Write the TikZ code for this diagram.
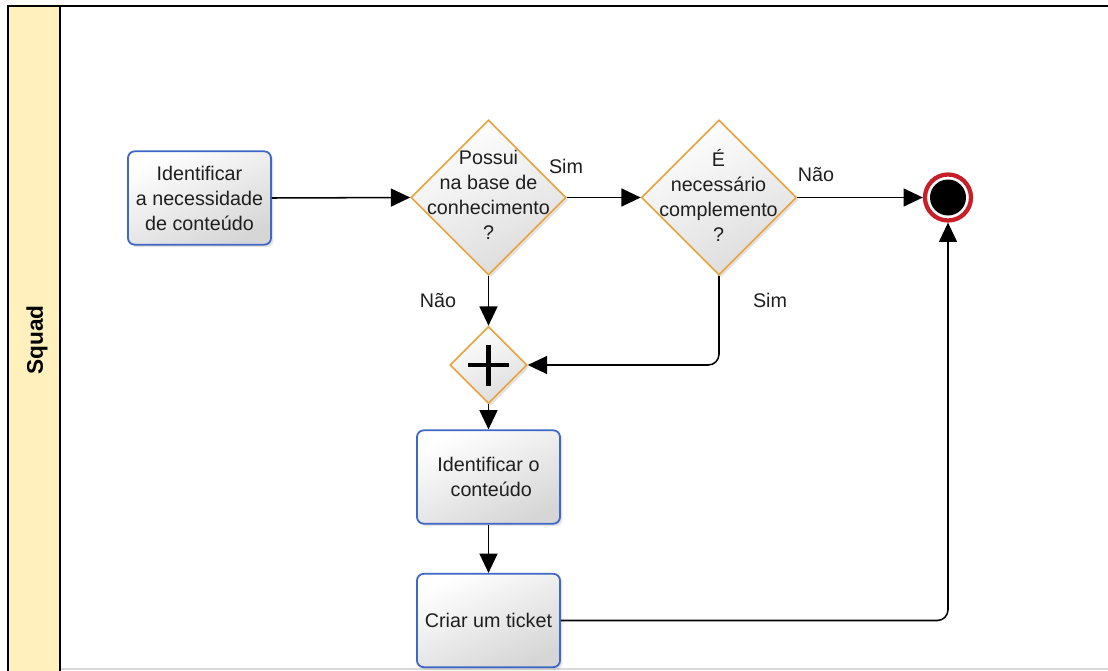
\documentclass[tikz,border=0pt]{standalone}
\usepackage{fontspec}
\setmainfont{Liberation Sans}
\usetikzlibrary{arrows.meta,shapes.geometric,shadows}

\definecolor{laneyellow}{HTML}{FFF0BE}
\definecolor{taskblue}{HTML}{3F67C6}
\definecolor{gateorange}{HTML}{E9A23B}
\definecolor{endred}{HTML}{C81E28}
\definecolor{boxgray}{HTML}{D6D6D6}

\tikzset{
  txt/.style={font=\fontsize{14.8}{18.75}\selectfont, text=black!88, align=center, inner sep=0pt},
  softshadow/.style={drop shadow={opacity=0.22, shadow xshift=1.8pt, shadow yshift=-1.8pt}},
  task/.style={draw=taskblue, line width=1.35pt, rounded corners=5pt,
    minimum width=107.25pt, minimum height=70pt, inner sep=0pt,
    top color=white, bottom color=boxgray, shading angle=25, softshadow},
  gate/.style={shape=diamond, draw=gateorange, line width=1.2pt, inner sep=0pt,
    top color=white, bottom color=boxgray!85, shading angle=25, softshadow},
  flow/.style={draw=black, line width=1.15pt, rounded corners=8pt,
    -{Triangle[length=14.5pt,width=13.5pt]}},
  plusmark/.style={line width=3.6pt, black},
}

\begin{document}
\begin{tikzpicture}[x=0.75pt, y=-0.75pt]
  \useasboundingbox (0,0) rectangle (1108,671);

  % pool with its lane header
  \fill[laneyellow] (8,6) rectangle (60,671);
  \draw[black!15, line width=1pt] (60,669) -- (1108,669);
  \draw[black, line width=1.6pt] (8,671) -- (8,6) -- (1108,6);
  \draw[black, line width=1.6pt] (60,6) -- (60,671);
  \node[font=\bfseries\fontsize{17}{20}\selectfont, rotate=90] (lane) at (37,340) {Squad};

  % activities
  \node[task] (t1) at (199.5,198) {};
  \node[txt] (t1txt) at (t1.center) {Identificar\\a necessidade\\de conteúdo};
  \node[task] (t2) at (488.5,477) {};
  \node[txt] (t2txt) at (t2.center) {Identificar o\\\ conteúdo};
  \node[task] (t3) at (488.5,620.5) {};
  \node[txt] (t3txt) at (t3.center) {Criar um ticket};

  % gateways
  \node[gate, minimum width=116.25pt, minimum height=116.25pt] (g1) at (488.5,197.5) {};
  \node[txt] (g1txt) at (488.5,195) {Possui\\na base de\\conhecimento\\?};
  \node[gate, minimum width=116.25pt, minimum height=116.25pt] (g2) at (719,197.5) {};
  \node[txt] (g2txt) at (718.5,195.5) {É\\necessário\\complemento\\?};
  \node[gate, minimum width=57.75pt, minimum height=57.75pt] (pg) at (488.5,365) {};
  \draw[plusmark] (pg.center) ++(-20.5,0) -- ++(41,0);
  \draw[plusmark] (pg.center) ++(0,-20.5) -- ++(0,41);

  % end event
  \node[circle, draw=endred, line width=3.2pt, fill=white, minimum size=34.5pt, inner sep=0pt,
        drop shadow={opacity=0.2, shadow xshift=1.2pt, shadow yshift=-1.2pt}] (end) at (948,197.5) {};
  \node[circle, fill=black, minimum size=27pt, inner sep=0pt] (endcore) at (end.center) {};

  % sequence flows
  \draw[flow] (t1.east) -- (g1.west);
  \draw[flow] (g1.east) -- (g2.west);
  \draw[flow] (g2.east) -- (end.west);
  \draw[flow] (g1.south) -- (pg.north);
  \draw[flow] (g2.south) |- (pg.east);
  \draw[flow] (pg.south) -- (t2.north);
  \draw[flow] (t2.south) -- (t3.north);
  \draw[flow] (t3.east) -| (end.south);

  % flow labels
  \node[txt] (simA) at (566,166) {Sim};
  \node[txt] (naoA) at (816,175) {Não};
  \node[txt] (naoB) at (438,301) {Não};
  \node[txt] (simB) at (770,300) {Sim};
\end{tikzpicture}
\end{document}
